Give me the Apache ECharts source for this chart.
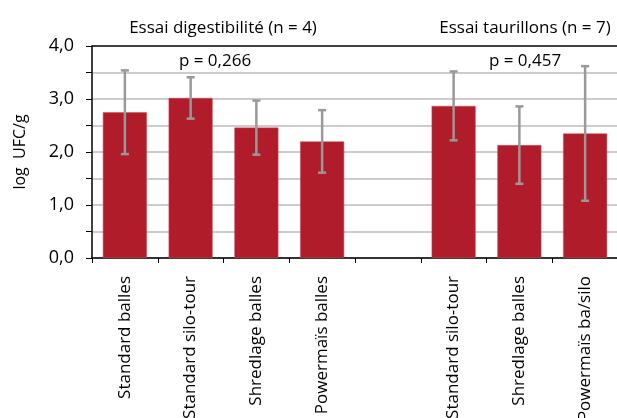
<!DOCTYPE html>
<html>
<head>
<meta charset="utf-8">
<script src="https://cdn.jsdelivr.net/npm/echarts@6/dist/echarts.min.js"></script>
<style>
  html, body { margin: 0; padding: 0; background: #fff; }
  #chart { width: 617px; height: 418px; }
</style>
</head>
<body>
<div id="chart"></div>
<script>
// catégories (slot vide entre les deux essais)
const categories = ['Standard balles', 'Standard silo-tour', 'Shredlage balles', 'Powermaïs balles', '',
  'Standard silo-tour', 'Shredlage balles', 'Powermaïs ba/silo']
const means = [2.75, 3.02, 2.46, 2.20, null, 2.87, 2.13, 2.35]
const errors = [0.79, 0.39, 0.51, 0.59, null, 0.65, 0.73, 1.27]
const yTicks = [0, 1, 2, 3, 4]

const font = 'Open Sans'
const red = '#b01c2a'

let chart = echarts.init(document.getElementById('chart'))

let errData = []
for (let i = 0; i < means.length; i++) {
    if (means[i] != null) errData.push([i, means[i] - errors[i], means[i] + errors[i]])
}

const txt = { fontSize: 17, fontWeight: 'normal', color: '#000', fontFamily: font }

option = {
    animation: false,
    textStyle: { fontFamily: font },
    title: [
        { text: 'Essai digestibilité (n = 4)', left: 218, top: 15, textAlign: 'center', textStyle: txt },
        { text: 'Essai taurillons (n = 7)', left: 520, top: 15, textAlign: 'center', textStyle: txt },
        { text: 'p = 0,266', left: 210, top: 48, textAlign: 'center', textStyle: txt },
        { text: 'p = 0,457', left: 520, top: 48, textAlign: 'center', textStyle: txt }
    ],
    grid: { left: 92, right: -1, top: 46, bottom: 160, outerBoundsMode: 'none', containLabel: false },
    xAxis: {
        type: 'category',
        data: categories,
        axisLine: { lineStyle: { color: '#000', width: 1.5 } },
        axisTick: { show: true, length: 5, lineStyle: { color: '#000' } },
        axisLabel: { rotate: 90, interval: 0, fontSize: 17, color: '#000', margin: 18 }
    },
    yAxis: {
        type: 'value',
        min: 0, max: 4, interval: 0.5,
        name: 'log  UFC/g',
        nameLocation: 'middle',
        nameGap: 64,
        nameTextStyle: { fontSize: 16, color: '#000' },
        axisLine: { show: true, lineStyle: { color: '#000', width: 1.5 } },
        axisTick: { show: true, length: 6, lineStyle: { color: '#000' } },
        axisLabel: {
            fontSize: 18, color: '#000', margin: 18,
            formatter: v => yTicks.includes(v) ? v.toFixed(1).replace('.', ',') : ''
        },
        splitLine: {
            lineStyle: {
                color: ['#bbb', '#bbb', '#bbb', '#bbb', '#bbb', '#bbb', '#bbb', '#bbb', '#000'],
                width: 1.5
            }
        }
    },
    series: [
        {
            type: 'bar',
            data: means,
            barWidth: 44,
            itemStyle: { color: red, borderColor: '#c9505c', borderWidth: 0.5 }
        },
        {
            type: 'custom',
            data: errData,
            z: 10,
            renderItem: (params, api) => {
                let lo = api.coord([api.value(0), api.value(1)])
                let hi = api.coord([api.value(0), api.value(2)])
                let style = { stroke: '#999', lineWidth: 2.5 }
                let cap = 4
                return {
                    type: 'group',
                    children: [
                        { type: 'line', shape: { x1: hi[0], y1: hi[1], x2: lo[0], y2: lo[1] }, style: style },
                        { type: 'line', shape: { x1: hi[0] - cap, y1: hi[1], x2: hi[0] + cap, y2: hi[1] }, style: style },
                        { type: 'line', shape: { x1: lo[0] - cap, y1: lo[1], x2: lo[0] + cap, y2: lo[1] }, style: style }
                    ]
                }
            }
        }
    ]
}
chart.setOption(option)
</script>
</body>
</html>
